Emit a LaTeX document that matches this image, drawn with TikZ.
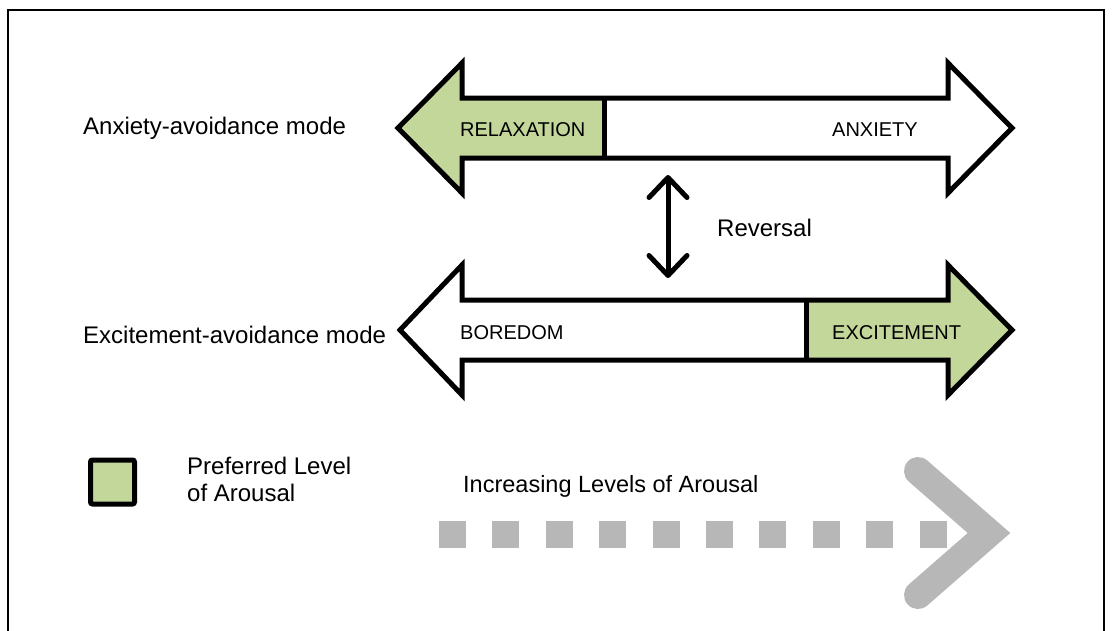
\documentclass[tikz,border=0pt]{standalone}
\usepackage{fontspec}
\setmainfont{Liberation Sans}
\usetikzlibrary{arrows.meta}
\definecolor{prefgreen}{HTML}{C4D79B}
\definecolor{trackgray}{HTML}{B7B7B7}
\tikzset{
  outline/.style={line width=5pt, line join=miter, draw=black},
  modelabel/.style={anchor=base west, inner sep=0pt, font=\fontsize{24}{28}\selectfont},
  zonelabel/.style={anchor=base west, inner sep=0pt, font=\fontsize{20}{24}\selectfont},
  tracksq/.style={fill=trackgray, minimum size=27pt, inner sep=0pt, outer sep=0pt},
  legendbox/.style={draw=black, fill=prefgreen, line width=5pt, minimum size=44pt, inner sep=0pt, rounded corners=2pt},
  revarrow/.style={line width=5pt, {Straight Barb[round, length=20pt, width=38pt]}-{Straight Barb[round, length=20pt, width=38pt]}},
}
\begin{document}
\begin{tikzpicture}[x=1pt, y=-1pt]
  \useasboundingbox (0,0) rectangle (1114,630);
  \fill[white] (0,0) rectangle (1114,630);
  % outer frame
  \draw[line width=2.5pt] (8,632) -- (8,10) -- (1104,10) -- (1104,632);

  % anxiety-avoidance double arrow (centre line y = 128)
  \fill[white] (398,128) -- (462,63) -- (462,98) -- (948,98) -- (948,63) -- (1012,128)
     -- (948,193) -- (948,158) -- (462,158) -- (462,193) -- cycle;
  \fill[prefgreen] (398,128) -- (462,63) -- (462,98) -- (604,98) -- (604,158)
     -- (462,158) -- (462,193) -- cycle;
  \draw[outline] (604,98) -- (604,158);
  \draw[outline] (398,128) -- (462,63) -- (462,98) -- (948,98) -- (948,63) -- (1012,128)
     -- (948,193) -- (948,158) -- (462,158) -- (462,193) -- cycle;

  % excitement-avoidance double arrow (centre line y = 330)
  \fill[white] (400,330) -- (462,265) -- (462,300) -- (948,300) -- (948,265) -- (1012,330)
     -- (948,395) -- (948,360) -- (462,360) -- (462,395) -- cycle;
  \fill[prefgreen] (806,300) -- (948,300) -- (948,265) -- (1012,330) -- (948,395)
     -- (948,360) -- (806,360) -- cycle;
  \draw[outline] (806,300) -- (806,360);
  \draw[outline] (400,330) -- (462,265) -- (462,300) -- (948,300) -- (948,265) -- (1012,330)
     -- (948,395) -- (948,360) -- (462,360) -- (462,395) -- cycle;

  % zone labels
  \node[zonelabel] (relax) at (460,136) {RELAXATION};
  \node[zonelabel] (anx) at (832,136) {ANXIETY};
  \node[zonelabel] (bore) at (460,339) {BOREDOM};
  \node[zonelabel] (excite) at (832,339) {EXCITEMENT};

  % mode labels
  \node[modelabel] (anxmode) at (83,134) {Anxiety-avoidance mode};
  \node[modelabel] (excmode) at (83,343) {Excitement-avoidance mode};

  % reversal between the two modes
  \coordinate (revtop) at (668,175);
  \coordinate (revbot) at (668,278);
  \draw[revarrow] (revtop) -- (revbot);
  \node[modelabel] (rev) at (717,236) {Reversal};

  % legend
  \node[legendbox] (legend) at (112.5,482) {};
  \node[anchor=north west, inner sep=0pt, align=left, font=\fontsize{24}{27}\selectfont]
    (legendtext) at (187,457) {Preferred Level\\of Arousal};

  % increasing arousal track
  \node[anchor=base west, inner sep=0pt, font=\fontsize{23.5}{27}\selectfont]
    (incr) at (463,492) {Increasing Levels of Arousal};
  \foreach \k in {0,...,9}
    \node[tracksq] (sq\k) at ({452.5+53.4*\k},534.5) {};
  \coordinate (chevtop) at (918,471);
  \coordinate (chevtip) at (989,533);
  \coordinate (chevbot) at (918,595);
  \draw[trackgray, line width=28pt, line cap=round, line join=miter] (chevtop) -- (chevtip) -- (chevbot);
\end{tikzpicture}
\end{document}
